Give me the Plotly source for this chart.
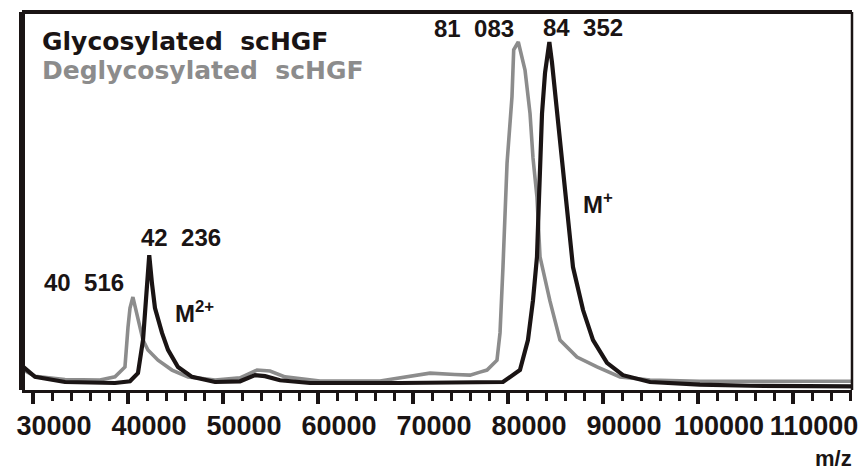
import plotly.graph_objects as go

# ---- data ----
mz_gly = [28850, 30210, 33370, 36000, 38630, 40210, 41050, 41580, 42000, 42236,
          42530, 42840, 43580, 44210, 45260, 46740, 49160, 51790, 53370, 54420,
          56000, 59160, 68630, 74950, 78100, 79470, 81260, 82100, 82630, 83050,
          83210, 83580, 83900, 84352, 84630, 85160, 85680, 86210, 86840, 87900,
          88950, 90420, 92100, 94950, 100200, 105500, 110700, 116200]
int_gly = [5.0, 1.8, 0.3, 0.0, 0.0, 0.5, 2.9, 12.6, 27.0, 37.5,
           29.0, 22.0, 14.7, 9.7, 4.7, 1.8, 0.3, 0.5, 2.3, 2.0,
           0.8, 0.0, 0.0, 0.0, 0.3, 0.3, 3.8, 12.6, 24.3, 37.0,
           50.0, 79.0, 91.0, 100.0, 94.0, 79.0, 64.5, 49.0, 34.0, 21.4,
           12.6, 5.9, 2.3, 0.3, -0.5, -0.8, -0.8, -1.0]

mz_degly = [28850, 30210, 33370, 37050, 38630, 39680, 40000, 40210, 40516, 40740,
            41050, 41580, 42100, 43160, 44630, 46320, 49160, 51790, 53580, 54950,
            56530, 60210, 66530, 71790, 74400, 76000, 77050, 77790, 78840, 79160,
            79470, 79680, 79900, 80420, 80600, 81083, 81260, 81790, 82320, 82630,
            83050, 83370, 84420, 85470, 87260, 89370, 91790, 94950, 100200, 106500,
            110700, 116200]
int_degly = [4.0, 2.0, 1.0, 0.9, 1.8, 4.7, 16.4, 22.0, 25.2, 22.3,
             18.5, 12.6, 9.7, 6.7, 3.8, 1.8, 0.9, 1.5, 3.8, 3.5,
             1.8, 0.6, 0.6, 2.9, 2.5, 2.3, 3.2, 3.8, 6.7, 14.7,
             34.0, 50.7, 64.5, 84.0, 97.7, 100.0, 98.0, 91.8, 79.0, 66.0,
             54.5, 37.0, 24.0, 12.6, 7.6, 4.7, 1.8, 0.9, 0.5, 0.5,
             0.3, 0.5]

tick_vals = [30000, 40000, 50000, 60000, 70000, 80000, 90000, 100000, 110000]
tick_text = ["30000", "40000", "50000", "60000", "70000", "80000", "90000", "100000", "110000"]

peak_labels = ["81\u00a0\u00a0083", "84\u00a0\u00a0352", "42\u00a0\u00a0236", "40\u00a0\u00a0516"]
peak_label_pos = [(76421, 104.1), (87895, 104.4), (45579, 42.8), (35368, 29.6)]

BLACK = "#1a1414"
GRAY = "#8c8c8c"
LAB_FONT = dict(family="Liberation Sans, Arial, sans-serif", size=24, color=BLACK, weight="bold")

fig = go.Figure()
fig.add_trace(go.Scatter(x=mz_degly, y=int_degly, mode="lines", name="Deglycosylated scHGF",
                         line=dict(color=GRAY, width=3.6), showlegend=False, hoverinfo="skip"))
fig.add_trace(go.Scatter(x=mz_gly, y=int_gly, mode="lines", name="Glycosylated scHGF",
                         line=dict(color=BLACK, width=4.2), showlegend=False, hoverinfo="skip"))

annotations = []
for txt, (ax, ay) in zip(peak_labels, peak_label_pos):
    annotations.append(dict(x=ax, y=ay, xref="x", yref="y", text=txt, showarrow=False,
                            font=LAB_FONT, xanchor="center", yanchor="middle"))
annotations.append(dict(x=46947, y=20.8, xref="x", yref="y", text="M<sup>2+</sup>", showarrow=False,
                        font=LAB_FONT, xanchor="center", yanchor="middle"))
annotations.append(dict(x=89474, y=52.8, xref="x", yref="y", text="M<sup>+</sup>", showarrow=False,
                        font=LAB_FONT, xanchor="center", yanchor="middle"))
# legend text
annotations.append(dict(x=0.022, y=0.922, xref="paper", yref="paper", text="Glycosylated\u00a0\u00a0scHGF",
                        showarrow=False, xanchor="left", yanchor="middle",
                        font=dict(family="DejaVu Sans, sans-serif", size=25, color=BLACK, weight="bold")))
annotations.append(dict(x=0.022, y=0.846, xref="paper", yref="paper", text="Deglycosylated\u00a0\u00a0scHGF",
                        showarrow=False, xanchor="left", yanchor="middle",
                        font=dict(family="DejaVu Sans, sans-serif", size=25, color=GRAY, weight="bold")))
# axis title m/z
annotations.append(dict(x=1.003, y=-0.18, xref="paper", yref="paper", text="m/z", showarrow=False,
                        xanchor="right", yanchor="middle",
                        font=dict(family="Liberation Sans, Arial, sans-serif", size=22, color=BLACK, weight="bold")))

shapes = [
    dict(type="line", xref="paper", yref="paper", x0=0, x1=0, y0=0, y1=1, line=dict(color=BLACK, width=6)),
    dict(type="line", xref="paper", yref="paper", x0=0, x1=1, y0=1, y1=1, line=dict(color=BLACK, width=4)),
    dict(type="line", xref="paper", yref="paper", x0=1, x1=1, y0=0, y1=1, line=dict(color=BLACK, width=2.5)),
]

# page body adds an 8px offset, margins compensate for it
fig.update_layout(
    width=868, height=473,
    margin=dict(l=14, r=24, t=4, b=91),
    paper_bgcolor="white", plot_bgcolor="white",
    annotations=annotations, shapes=shapes,
    showlegend=False,
)
fig.update_xaxes(
    range=[28842, 116210], showgrid=False, zeroline=False,
    showline=True, linecolor=BLACK, linewidth=3,
    tickvals=tick_vals, ticktext=tick_text,
    ticks="outside", ticklen=11, tickwidth=4, tickcolor=BLACK,
    ticklabelshift=21, ticklabelstandoff=-1,
    tickfont=dict(family="Liberation Sans, Arial, sans-serif", size=27, color=BLACK, weight="bold"),
    minor=dict(dtick=2000, tick0=0, ticks="outside", ticklen=8, tickwidth=3, tickcolor=BLACK),
)
fig.update_yaxes(range=[-2.05, 108.8], showgrid=False, zeroline=False, showticklabels=False,
                 showline=False, ticks="")

fig.write_html("out.html")
